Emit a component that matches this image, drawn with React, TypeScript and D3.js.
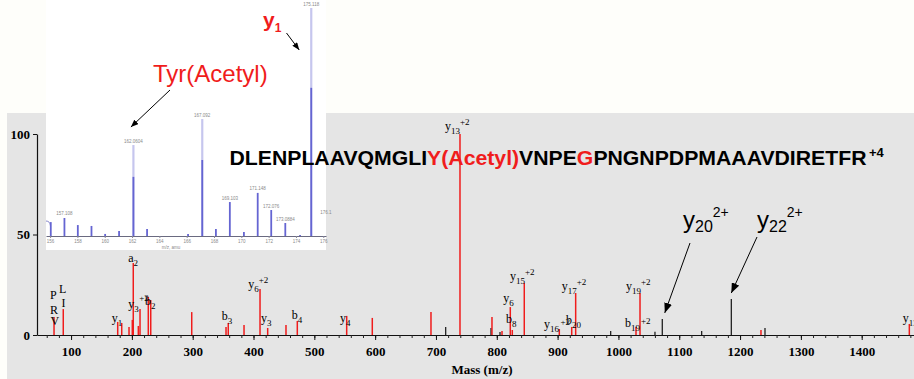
import React, { useEffect, useRef } from 'react';
import * as d3 from 'd3';

const W = 914;
const H = 379;

// main MS/MS spectrum: m/z and relative intensity (%)
const redMz = [72.0, 87.2, 176.7, 183.3, 195.3, 200.7, 202.3, 210.6, 213.4, 227.0, 231.0, 298.4, 354.8, 358.5, 384.4, 410.7, 423.3, 453.4, 472.0, 553.2, 595.3, 691.8, 739.5, 792.1, 808.6, 822.2, 825.5, 845.2, 902.8, 923.2, 929.7, 1028.9, 1035.5, 1234.4, 1478.3];
const redInt = [9.0, 12.9, 6.5, 6.0, 4.0, 7.5, 35.8, 4.5, 12.9, 18.9, 17.4, 11.4, 4.0, 6.0, 5.0, 22.9, 3.5, 5.0, 7.0, 9.5, 8.5, 11.4, 100, 9.0, 2.0, 13.9, 2.5, 25.9, 3.0, 4.0, 20.9, 4.0, 20.9, 2.5, 5.5];
const blackMz = [716.0, 790.5, 805.3, 987.3, 1060.1, 1072.1, 1136.9, 1185.6, 1241.0];
const blackInt = [4.0, 3.5, 1.5, 2.0, 1.6, 8.0, 2.0, 17.9, 3.5];

const xTicks = [100, 200, 300, 400, 500, 600, 700, 800, 900, 1000, 1100, 1200, 1300, 1400];
const xMinorTicks = d3.range(60, 1490, 20);
const yTicks = [0, 50, 100];

// fragment ion labels, placed at (m/z, intensity) of their left baseline
const ionMz = [65.4, 80.2, 84.3, 65.4, 66.2, 166.8, 194.1, 194.1, 212.2, 221.6, 347.7, 391.4, 412.3, 462.8, 542.2, 714.8, 810.7, 815.1, 821.7, 877.6, 904.7, 913.8, 906.7, 1012.4, 1010.8, 1037.1, 1467.4];
const ionInt = [17.9, 20.9, 13.9, 10.4, 5.0, 6.7, 36.3, 13.4, 16.9, 14.9, 7.5, 23.6, 6.5, 8.0, 6.5, 102.0, 16.4, 6.0, 27.4, 3.5, 5.0, 5.5, 22.4, 22.4, 4.0, 5.5, 6.5];
const ionBase = ['P', 'L', 'I', 'R', 'V', 'y', 'a', 'y', '', 'b', 'b', 'y', 'y', 'b', 'y', 'y', 'y', 'b', 'y', 'y', '', 'b', 'y', 'y', 'b', '', 'y'];
const ionSub = ['', '', '', '', '', '1', '2', '3', '', '2', '3', '6', '3', '4', '4', '13', '6', '8', '15', '16', '', '20', '17', '19', '19', '', '13'];
const ionSup = ['', '', '', '', '', '', '', '', '+2', '', '', '+2', '', '', '', '+2', '', '', '+2', '', '+2', '', '+2', '+2', '', '+2', ''];

// inset: zoom on the low mass region
const insetMz = [156.05, 157.05, 158.03, 159.03, 160.03, 161.05, 162.1, 163.1, 166.1, 167.14, 168.14, 169.16, 170.19, 171.2, 172.19, 173.22, 174.3, 175.12];
const insetInt = [6.1, 7.9, 4.8, 4.4, 0.9, 2.2, 39.9, 3.1, 0.9, 51.3, 3.1, 14.9, 1.8, 18.9, 11.4, 5.7, 0.4, 100];
const insetTicks = [156, 158, 160, 162, 164, 166, 168, 170, 172, 174, 176];
const insetPeakLabelMz = [157.05, 162.1, 167.14, 169.16, 171.2, 172.19, 173.22, 175.12, 176.2];
const insetPeakLabelInt = [7.9, 39.9, 51.3, 14.9, 18.9, 11.4, 5.7, 100, 8.5];
const insetPeakLabels = ['157.108', '162.0604', '167.092', '169.103', '171.148', '172.076', '173.0884', '175.118', '176.1'];

const sequence: [string, boolean][] = [
  ['DLENPLAAVQMGLI', false],
  ['Y(Acetyl)', true],
  ['VNPE', false],
  ['G', true],
  ['PNGNPDPMAAAVDIRETFR', false],
];

const RED = '#f01c1c';
const SERIF = '"Liberation Serif", "Times New Roman", serif';
const SANS = '"Liberation Sans", Arial, sans-serif';

const App: React.FC = () => {
  const xAxisRef = useRef<SVGGElement>(null);
  const xMinorRef = useRef<SVGGElement>(null);
  const yAxisRef = useRef<SVGGElement>(null);
  const insetAxisRef = useRef<SVGGElement>(null);

  const x = d3.scaleLinear().domain([44, 1486]).range([37, 914]);
  const y = d3.scaleLinear().domain([0, 100]).range([335, 134]);

  const ix = d3.scaleLinear().domain([155.7, 176.2]).range([46, 326]);
  const iy = d3.scaleLinear().domain([0, 100]).range([236, 8]);

  useEffect(() => {
    // minor ticks every 20
    const gm = d3.select(xMinorRef.current!);
    gm.selectAll('*').remove();
    gm.call(d3.axisBottom(x).tickValues(xMinorTicks).tickSize(3).tickSizeOuter(0).tickFormat(() => ''));
    gm.select('.domain').attr('stroke', '#111').attr('stroke-width', 1.2);
    gm.selectAll('.tick line').attr('stroke', '#222');

    const gx = d3.select(xAxisRef.current!);
    gx.selectAll('*').remove();
    gx.call(d3.axisBottom(x).tickValues(xTicks).tickSize(5).tickSizeOuter(0).tickPadding(7).tickFormat(d3.format('d')));
    gx.select('.domain').remove();
    gx.selectAll('.tick line').attr('stroke', '#111');
    gx.selectAll('text')
      .attr('fill', '#000')
      .style('font-family', SERIF)
      .style('font-weight', 'bold')
      .style('font-size', '13px');

    const gy = d3.select(yAxisRef.current!);
    gy.selectAll('*').remove();
    gy.call(d3.axisLeft(y).tickValues(yTicks).tickSize(4).tickSizeOuter(0).tickPadding(3));
    gy.select('.domain').attr('stroke', '#111').attr('stroke-width', 1.2);
    gy.selectAll('.tick line').attr('stroke', '#111');
    gy.selectAll('text')
      .attr('fill', '#000')
      .style('font-family', SERIF)
      .style('font-weight', 'bold')
      .style('font-size', '13px');

    const gi = d3.select(insetAxisRef.current!);
    gi.selectAll('*').remove();
    gi.call(d3.axisBottom(ix).tickValues(insetTicks).tickSize(2).tickSizeOuter(0).tickPadding(2));
    gi.select('.domain').attr('stroke', '#6a6a80').attr('stroke-width', 1);
    gi.selectAll('.tick line').attr('stroke', '#8a8a9a');
    gi.selectAll('text')
      .attr('fill', '#8a8a8a')
      .style('font-family', SANS)
      .style('font-size', '4.5px');
  }, []);

  return (
    <div style={{ position: 'absolute', left: 0, top: 0 }}>
      <svg width={W} height={H} style={{ display: 'block' }}>
        <defs>
          <marker id="ah" viewBox="0 0 10 8" refX={10} refY={4} markerWidth={10} markerHeight={8}
            markerUnits="userSpaceOnUse" orient="auto">
            <path d="M0,0 L10,4 L0,8 z" fill="#000" />
          </marker>
          <marker id="ahs" viewBox="0 0 10 8" refX={10} refY={4} markerWidth={8} markerHeight={6}
            markerUnits="userSpaceOnUse" orient="auto">
            <path d="M0,0 L10,4 L0,8 z" fill="#000" />
          </marker>
        </defs>

        {/* page and plot panel */}
        <rect x={0} y={0} width={W} height={H} fill="#fefefa" />
        <rect x={7} y={113} width={W - 7} height={H - 113} fill="#e5e5e5" />

        {/* axes */}
        <g ref={xMinorRef} transform={`translate(0,${y(0)})`} />
        <g ref={xAxisRef} transform={`translate(0,${y(0)})`} />
        <g ref={yAxisRef} transform={`translate(${x(44)},0)`} />
        <text x={482} y={374} textAnchor="middle" fontFamily={SERIF} fontWeight="bold" fontSize={13}>
          Mass (m/z)
        </text>

        {/* peaks */}
        <g>
          {blackMz.map((m, i) => (
            <line key={`b${i}`} x1={x(m)} x2={x(m)} y1={y(0)} y2={y(blackInt[i])} stroke="#111" strokeWidth={1.2} />
          ))}
          {redMz.map((m, i) => (
            <line key={`r${i}`} x1={x(m)} x2={x(m)} y1={y(0)} y2={y(redInt[i])} stroke={RED} strokeWidth={1.5} />
          ))}
        </g>

        {/* ion labels */}
        <g fontFamily={SERIF} fill="#000">
          {ionMz.map((m, i) => (
            <text key={`l${i}`} x={x(m)} y={y(ionInt[i])} fontSize={12}>
              {ionBase[i] && <tspan>{ionBase[i]}</tspan>}
              {ionSub[i] && <tspan fontSize={9} dy={4}>{ionSub[i]}</tspan>}
              {ionSup[i] && (
                <tspan fontSize={9} dy={ionBase[i] ? (ionSub[i] ? -9 : -5) : 0}>{ionSup[i]}</tspan>
              )}
            </text>
          ))}
        </g>

        {/* inset spectrum */}
        <g>
          <rect x={46} y={0} width={280} height={250} fill="#ffffff" />
          <path d="M46,221 Q50,221 50.5,226" fill="none" stroke="#8888cc" strokeWidth={1} />
          {insetMz.map((m, i) => {
            const big = insetInt[i] > 30;
            const dark = big ? insetInt[i] * 0.65 : insetInt[i];
            return (
              <g key={`i${i}`}>
                {big && <line x1={ix(m)} x2={ix(m)} y1={iy(0)} y2={iy(insetInt[i])} stroke="#c6c6ee" strokeWidth={2.2} />}
                <line x1={ix(m)} x2={ix(m)} y1={iy(0)} y2={iy(dark)} stroke="#6565d2" strokeWidth={1.8} />
              </g>
            );
          })}
          <g ref={insetAxisRef} transform={`translate(0,${iy(0)})`} />
          <text x={171} y={249} textAnchor="middle" fontFamily={SANS} fontSize={4.5} fill="#8a8a8a">m/z, amu</text>
          {insetPeakLabelMz.map((m, i) => (
            <text key={`il${i}`} x={ix(m)} y={iy(insetPeakLabelInt[i]) - 2.5} textAnchor="middle"
              fontFamily={SANS} fontSize={4.5} fill="#8a8a8a">{insetPeakLabels[i]}</text>
          ))}
        </g>

        {/* inset annotations */}
        <text x={153} y={82} fontFamily={SANS} fontSize={24} fill={RED}>Tyr(Acetyl)</text>
        <line x1={170} y1={90} x2={ix(162.1) - 2.5} y2={iy(39.9) - 18} stroke="#000" strokeWidth={1} markerEnd="url(#ahs)" />
        <text x={263} y={27} fontFamily={SANS} fontWeight="bold" fontSize={21} fill={RED}>
          y<tspan fontSize={12} dy={4.5}>1</tspan>
        </text>
        <line x1={286.5} y1={33} x2={ix(175.12) - 12} y2={iy(100) + 42} stroke="#000" strokeWidth={1} markerEnd="url(#ahs)" />

        {/* peptide sequence */}
        <text x={229.5} y={165} fontFamily={SANS} fontWeight="bold" fontSize={21} fill="#000"
          textLength={637} lengthAdjust="spacingAndGlyphs">
          {sequence.map(([s, hi], i) => (
            <tspan key={`s${i}`} fill={hi ? RED : '#000'}>{s}</tspan>
          ))}
        </text>
        <text x={869} y={157} fontFamily={SANS} fontWeight="bold" fontSize={13} fill="#000">+4</text>

        {/* y20 / y22 doubly charged annotations */}
        <text x={683} y={228} fontFamily={SANS} fontSize={24} fill="#000">
          y<tspan fontSize={16} dy={4}>20</tspan><tspan fontSize={14} dy={-15}>2+</tspan>
        </text>
        <line x1={690} y1={243} x2={x(1072.1) + 2.5} y2={y(8.0) - 6} stroke="#000" strokeWidth={1} markerEnd="url(#ah)" />
        <text x={757} y={228} fontFamily={SANS} fontSize={24} fill="#000">
          y<tspan fontSize={16} dy={4}>22</tspan><tspan fontSize={14} dy={-15}>2+</tspan>
        </text>
        <line x1={757} y1={237} x2={x(1185.6)} y2={y(17.9) - 6} stroke="#000" strokeWidth={1} markerEnd="url(#ah)" />
      </svg>
    </div>
  );
};

export default App;
